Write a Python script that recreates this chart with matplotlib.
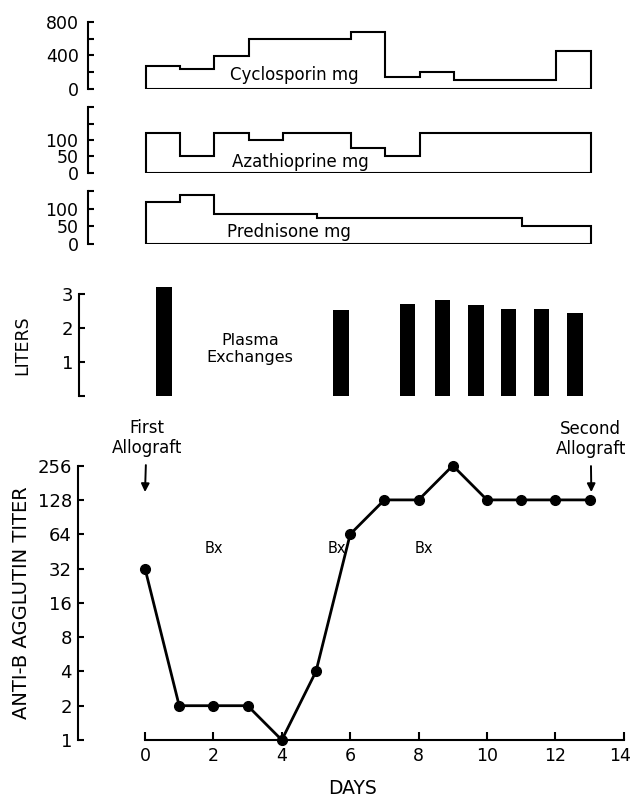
import matplotlib.pyplot as plt
import matplotlib.transforms as mtransforms

# data
days = list(range(14))
titer = [32, 2, 2, 2, 1, 4, 64, 128, 128, 256, 128, 128, 128, 128]

dose_edges = list(range(14))
cyclosporin = [280, 240, 390, 590, 590, 590, 680, 150, 200, 110, 110, 110, 450]
azathioprine = [120, 50, 120, 100, 120, 120, 75, 50, 120, 120, 120, 120, 120]
prednisone = [120, 140, 85, 85, 85, 75, 75, 75, 75, 75, 75, 50, 50]

exchange_day = [0.53, 5.7, 7.64, 8.67, 9.65, 10.6, 11.57, 12.54]
exchange_liters = [3.2, 2.52, 2.72, 2.83, 2.69, 2.57, 2.57, 2.43]

bx_days = [2.0, 5.6, 8.15]

plt.rcParams['font.family'] = ['DejaVu Sans']
W, H = 632, 797
fig = plt.figure(figsize=(W / 100, H / 100), dpi=100)

DAYPX = 34.2   # pixels per day
XRIGHT = 14.1


def ax_px(left, day0, y_bottom, y_top):
    # axes placed by pixel coordinates (top-left origin), same day scale for all
    xleft = -(day0 - left) / DAYPX
    width = (XRIGHT - xleft) * DAYPX
    ax = fig.add_axes([left / W, (H - y_bottom) / H, width / W, (y_bottom - y_top) / H])
    ax.set_xlim(xleft, XRIGHT)
    return ax


def style_top(ax, ymax, ticks, labels, pad):
    ax.set_ylim(0, ymax)
    for s in ['top', 'right', 'bottom']:
        ax.spines[s].set_visible(False)
    ax.spines['left'].set_linewidth(1.5)
    ax.set_xticks([])
    ax.set_yticks(ticks)
    ax.set_yticklabels(labels)
    ax.tick_params(axis='y', direction='in', length=4, width=1.5, labelsize=12.5, pad=pad)


# dosing panels: values, y of 0, y of top (px), top value, ticks, labels, name, label x (day), label baseline value
panels = [
    (cyclosporin, 89.3, 21.7, 800, [0, 200, 400, 600, 800], ['0', '', '400', '', '800'],
     'Cyclosporin mg', 4.35, 110),
    (azathioprine, 172.7, 107.3, 200, [0, 50, 100, 150, 200], ['0', '50', '100', '', ''],
     'Azathioprine mg', 4.5, 18),
    (prednisone, 244, 191, 150, [0, 50, 100, 150], ['0', '50', '100', ''],
     'Prednisone mg', 4.17, 21),
]
for vals, yb, yt, ymax, ticks, labels, name, lx, ly in panels:
    ax = ax_px(88.3, 146, yb, yt)
    style_top(ax, ymax, ticks, labels, pad=7)
    ax.stairs(vals, dose_edges, baseline=0, fill=False, color='black', lw=1.5)
    ax.hlines(0, dose_edges[0], dose_edges[-1], color='black', lw=1.5)
    ax.text(lx, ly, name, ha='center', va='baseline', fontsize=12)

# plasma exchanges
axp = ax_px(79, 146, 396, 294)
style_top(axp, 3, [0, 1, 2, 3], ['', '1', '2', '3'], pad=4)
axp.tick_params(axis='y', labelsize=13)
axp.bar(exchange_day, exchange_liters, width=0.45, color='black', clip_on=False)
axp.set_ylabel('LITERS', fontsize=12.5, labelpad=22)
axp.text(3.04, 1.38, 'Plasma\nExchanges', ha='center', va='center', fontsize=11.5, linespacing=1.15)

# titer panel
ax = ax_px(78.3, 145, 740, 465.6)
ax.set_yscale('log', base=2)
ax.set_ylim(1, 256)
ax.plot(days, titer, color='black', lw=2, marker='o', markersize=7, clip_on=False)
for s in ['top', 'right']:
    ax.spines[s].set_visible(False)
ax.spines['left'].set_bounds(1, 256)
ax.spines['bottom'].set_bounds(0, 14)
ax.spines['left'].set_linewidth(1.5)
ax.spines['bottom'].set_linewidth(1.5)
yt = [1, 2, 4, 8, 16, 32, 64, 128, 256]
ax.set_yticks(yt)
ax.set_yticklabels([str(v) for v in yt])
ax.minorticks_off()
ax.set_xticks(range(0, 15, 2))
ax.tick_params(axis='y', direction='in', length=4, width=1.5, labelsize=13, pad=4.5)
ax.tick_params(axis='x', direction='in', length=6, width=1.5, labelsize=12.5, pad=5)
ax.set_ylabel('ANTI-B AGGLUTIN TITER', fontsize=14, labelpad=4.5)
ax.set_xlabel('DAYS', fontsize=13.5, labelpad=10)

# nudge the last day label in so it stays inside the figure
last = ax.get_xticklabels()[-1]
last.set_transform(last.get_transform() + mtransforms.ScaledTranslation(-4 / 100, 0, fig.dpi_scale_trans))

for d in bx_days:
    ax.text(d, 48, 'Bx', ha='center', va='center', fontsize=10.5)

arrow = dict(arrowstyle='-|>', color='black', lw=1.4, shrinkA=4, shrinkB=0, mutation_scale=12)
ax.annotate('First\nAllograft', xy=(0, 150), xytext=(0.05, 306), ha='center', va='bottom',
            fontsize=12, linespacing=1.1, annotation_clip=False, arrowprops=arrow)
ax.annotate('Second\nAllograft', xy=(13.05, 150), xytext=(13.03, 300), ha='center', va='bottom',
            fontsize=12, linespacing=1.1, annotation_clip=False, arrowprops=arrow)

fig.savefig('out.png', dpi=100)
